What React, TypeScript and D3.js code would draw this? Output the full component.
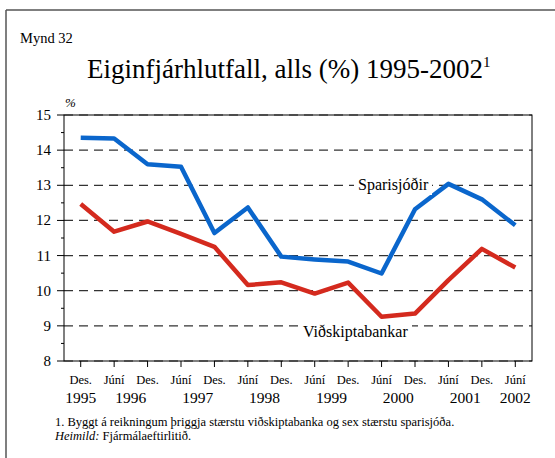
import React from "react";
import * as d3 from "d3";

const periods = [
  "Des. 1995", "Júní 1996", "Des. 1996", "Júní 1997", "Des. 1997", "Júní 1998", "Des. 1998",
  "Júní 1999", "Des. 1999", "Júní 2000", "Des. 2000", "Júní 2001", "Des. 2001", "Júní 2002",
];
const monthLabels = ["Des.", "Júní", "Des.", "Júní", "Des.", "Júní", "Des.", "Júní", "Des.", "Júní", "Des.", "Júní", "Des.", "Júní"];
const sparisjodir = [14.35, 14.33, 13.6, 13.53, 11.64, 12.37, 10.97, 10.89, 10.83, 10.49, 12.32, 13.04, 12.6, 11.86];
const vidskiptabankar = [12.47, 11.68, 11.97, 11.62, 11.25, 10.16, 10.24, 9.92, 10.23, 9.26, 9.35, 10.3, 11.19, 10.66];
const yTicks = [8, 9, 10, 11, 12, 13, 14, 15];
const yMinorTicks = [8.5, 9.5, 10.5, 11.5, 12.5, 13.5, 14.5];
const yearLabels: [string, number, number][] = [
  ["1995", 0, 0], ["1996", 1, 2], ["1997", 3, 4], ["1998", 5, 6], ["1999", 7, 8],
  ["2000", 9, 10], ["2001", 11, 12], ["2002", 13, 13],
];

const W = 555, H = 458;
const L = 64, R = 532, T = 115, B = 361;
const SERIF = { fontFamily: "Liberation Serif" };

export default function App() {
  const x = d3.scalePoint<string>().domain(periods).range([L, R]).padding(0.5);
  const y = d3.scaleLinear().domain([8, 15]).range([B, T]);
  const line = d3.line<number>().x((_, i) => x(periods[i]) as number).y((d) => y(d));

  return (
    <svg width={W} height={H} style={{ position: "absolute", left: 0, top: 0, background: "#fff", fontFamily: "Liberation Serif" }}>
      <rect x={0} y={0} width={W} height={H} fill="#fff" />
      <line x1={6} x2={W} y1={10} y2={10} stroke="#555" strokeWidth={1.5} />
      <line x1={6} x2={6} y1={10} y2={H} stroke="#555" strokeWidth={1.5} />

      <text x={20} y={43} fontSize={14.5} fill="#000" style={SERIF}>Mynd 32</text>
      <text x={87} y={78} fontSize={27} fill="#000" style={SERIF}>
        Eiginfjárhlutfall, alls (%) 1995-2002
        <tspan fontSize={15} dy={-11}>1</tspan>
      </text>
      <text x={65} y={107} fontSize={13} fontStyle="italic" fill="#000" style={SERIF}>%</text>

      {yTicks.map((t) => (
        <line key={"g" + t} x1={L} x2={R} y1={y(t)} y2={y(t)} stroke="#333" strokeWidth={1.2} strokeDasharray="9,6" />
      ))}
      <rect x={L} y={T} width={R - L} height={B - T} fill="none" stroke="#000" strokeWidth={1} />

      {yTicks.map((t) => (
        <g key={"y" + t}>
          <line x1={L - 7} x2={L} y1={y(t)} y2={y(t)} stroke="#000" strokeWidth={1} />
          <text x={51} y={y(t) + 5} fontSize={15} textAnchor="end" fill="#000" style={SERIF}>{t}</text>
        </g>
      ))}
      {yMinorTicks.map((t) => (
        <line key={"m" + t} x1={L - 3} x2={L} y1={y(t)} y2={y(t)} stroke="#000" strokeWidth={1} />
      ))}

      {periods.map((p, i) => (
        <g key={p}>
          <line x1={x(p)} x2={x(p)} y1={B} y2={B + 6} stroke="#000" strokeWidth={1} />
          <text x={x(p)} y={384} fontSize={12.5} textAnchor="middle" fill="#000" style={SERIF}>{monthLabels[i]}</text>
        </g>
      ))}
      {yearLabels.map(([yr, a, b]) => (
        <text key={yr} x={((x(periods[a]) as number) + (x(periods[b]) as number)) / 2} y={403} fontSize={15.5} textAnchor="middle" fill="#000" style={SERIF}>{yr}</text>
      ))}

      <path d={line(vidskiptabankar) || ""} fill="none" stroke="#d42a1e" strokeWidth={4.5} strokeLinejoin="round" />
      <path d={line(sparisjodir) || ""} fill="none" stroke="#0a66cc" strokeWidth={4.5} strokeLinejoin="round" />

      <rect x={354} y={177} width={78} height={18} fill="#fff" />
      <text x={358} y={190} fontSize={16} fill="#000" style={SERIF}>Sparisjóðir</text>
      <rect x={299} y={323} width={113} height={18} fill="#fff" />
      <text x={303} y={337} fontSize={16} fill="#000" style={SERIF}>Viðskiptabankar</text>

      <text x={55} y={426} fontSize={12.5} fill="#000" style={SERIF}>1. Byggt á reikningum þriggja stærstu viðskiptabanka og sex stærstu sparisjóða.</text>
      <text x={55} y={440} fontSize={12.5} fill="#000" style={SERIF}>
        <tspan fontStyle="italic">Heimild:</tspan> Fjármálaeftirlitið.
      </text>
    </svg>
  );
}
